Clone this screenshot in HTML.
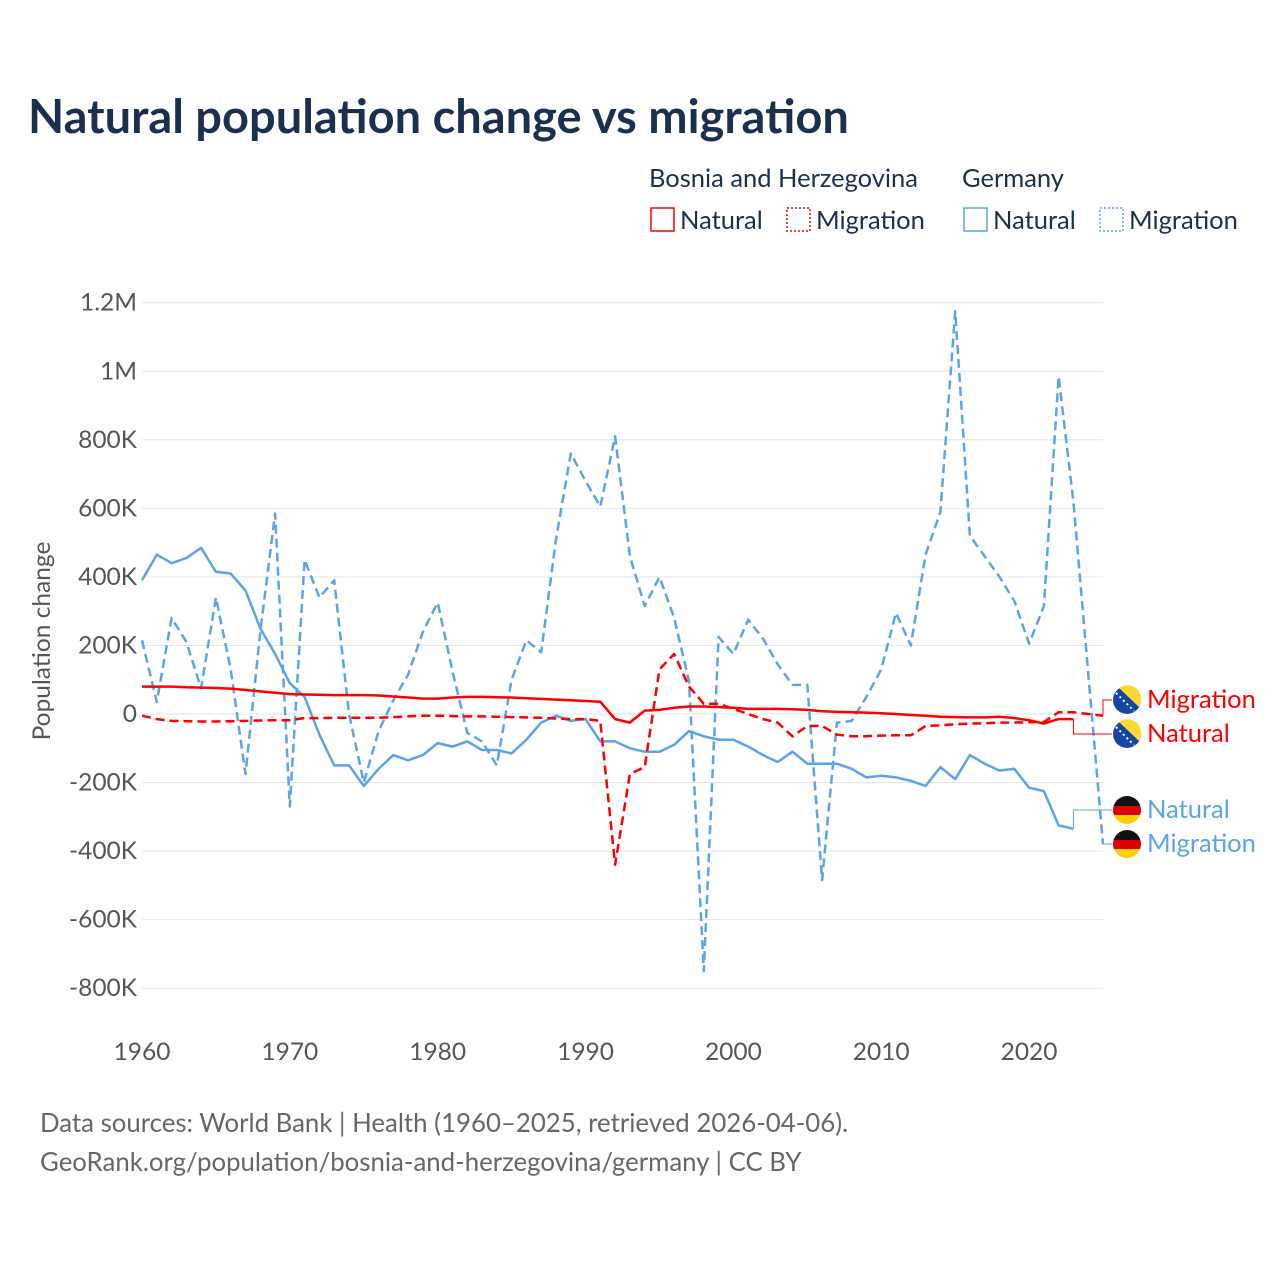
<!DOCTYPE html>
<html><head><meta charset="utf-8"><style>
body{margin:0;background:#fff;font-family:"Liberation Sans",sans-serif;}
svg text{font-family:"Lato","Liberation Sans",sans-serif;}
</style></head><body>
<svg id="c" width="1280" height="1280" viewBox="0 0 1280 1280" xmlns="http://www.w3.org/2000/svg">
<rect width="1280" height="1280" fill="#fff"/>
<text x="28" y="133" font-size="47" font-weight="bold" fill="#1b2f4e">Natural population change vs migration</text>
<g font-size="25.5" fill="#1b2f4e">
<text x="649" y="187" fill="#1b2f4e">Bosnia and Herzegovina</text>
<text x="962" y="187" fill="#1b2f4e">Germany</text>
<g><rect x="651" y="208" width="23" height="23" fill="none" stroke="#f00" stroke-width="1.5"/><text x="680" y="229" fill="#1b2f4e">Natural</text></g>
<g><rect x="787" y="208" width="23" height="23" fill="none" stroke="#f00" stroke-width="1.5" stroke-dasharray="2,2"/><text x="816" y="229" fill="#1b2f4e">Migration</text></g>
<g><rect x="964" y="208" width="23" height="23" fill="none" stroke="#5ba3e8" stroke-width="1.5"/><text x="993" y="229" fill="#1b2f4e">Natural</text></g>
<g><rect x="1100" y="208" width="23" height="23" fill="none" stroke="#5ba3e8" stroke-width="1.5" stroke-dasharray="2,2"/><text x="1129" y="229" fill="#1b2f4e">Migration</text></g>
</g>
<text transform="translate(50,641) rotate(-90)" text-anchor="middle" font-size="24.5" fill="#555">Population change</text>
<g id="grid"></g><g id="series"></g><g id="labels"></g>
<text x="40" y="1132" font-size="25.8" fill="#666">Data sources: World Bank | Health (1960–2025, retrieved 2026-04-06).</text>
<text x="40" y="1171" font-size="25.8" fill="#666">GeoRank.org/population/bosnia-and-herzegovina/germany | CC BY</text>
</svg>
<script>
const yTicks=[1200,1000,800,600,400,200,0,-200,-400,-600,-800];
const yTickLabels=["1.2M","1M","800K","600K","400K","200K","0","-200K","-400K","-600K","-800K"];
const xTicks=[1960,1970,1980,1990,2000,2010,2020];
const bihNatural=[80,80,80,78,77,76,74,70,66,62,58,57,56,55,55,55,54,51,48,45,45,48,50,50,49,48,46,44,42,40,38,36,-15,-25,10,12,18,22,22,20,18,15,15,15,14,12,8,6,5,4,2,0,-3,-5,-8,-9,-10,-10,-8,-12,-18,-28,-15,-15];
const bihMigration=[-5,-15,-20,-21,-22,-22,-21,-20,-19,-18,-18,-12,-12,-11,-11,-11,-11,-9,-7,-5,-5,-6,-7,-7,-8,-9,-10,-11,-13,-15,-15,-20,-440,-175,-155,130,175,80,30,30,15,0,-15,-25,-65,-35,-35,-60,-65,-65,-63,-62,-62,-35,-33,-30,-28,-27,-25,-25,-24,-23,5,5,0,-5];
const deNatural=[390,465,440,455,485,415,410,360,250,175,90,50,-60,-150,-150,-210,-160,-120,-135,-120,-85,-95,-80,-105,-105,-115,-75,-25,-5,-20,-15,-80,-80,-100,-110,-110,-90,-50,-65,-75,-75,-95,-120,-140,-110,-145,-145,-145,-160,-185,-180,-185,-195,-210,-155,-190,-120,-145,-165,-160,-215,-225,-325,-335];
const deMigration=[215,35,280,210,75,340,130,-175,240,585,-270,450,340,390,0,-200,-50,40,115,240,325,125,-55,-80,-150,100,215,180,510,760,680,605,810,460,315,400,280,95,-750,225,175,275,220,145,85,85,-485,-25,-20,50,130,295,200,465,590,1175,520,460,400,330,205,315,985,620,120,-380];
const NS="http://www.w3.org/2000/svg";
const x=yr=>142+(yr-1960)*(1103-142)/65;
const y=v=>714-v*0.34275;
function mk(tag,attrs,parent,text){const e=document.createElementNS(NS,tag);for(const k in attrs)e.setAttribute(k,attrs[k]);if(text!=null)e.textContent=text;parent.appendChild(e);return e;}
const grid=document.getElementById('grid');
yTicks.forEach((t,i)=>{
 const l=mk('line',{x1:142,x2:1103,y1:y(t),y2:y(t),stroke:'#e6e6e6','stroke-width':1},grid);
 
 
 const tx=mk('text',{x:137,y:y(t)+8,'text-anchor':'end','font-size':24.5,fill:'#555'},grid,yTickLabels[i]);
 
 
});
xTicks.forEach(t=>{
 const tx=mk('text',{x:x(t),y:1060,'text-anchor':'middle','font-size':24.5,fill:'#555'},grid,String(t));
 
 
});
const ser=document.getElementById('series');
function line(data,color,dash,name){
 const d=data.map((v,i)=>(i?'L':'M')+x(1960+i).toFixed(1)+','+y(v).toFixed(1)).join('');
 const p=mk('path',{d:d,fill:'none',stroke:color,'stroke-width':2.5,'stroke-linejoin':'round'},ser);
 if(dash)p.setAttribute('stroke-dasharray','9,5');
 
 
}
line(deNatural,'#5ba3e8',false,'line-germany-natural');
line(deMigration,'#5ba3e8',true,'line-germany-migration');
line(bihNatural,'#ff0000',false,'line-bih-natural');
line(bihMigration,'#ff0000',true,'line-bih-migration');
const lab=document.getElementById('labels');
function endLabel(data,ly,color,text,flag,name){
 const n=data.length-1,ex=x(1960+n),ey=y(data[n]);
 const c=mk('polyline',{points:`${ex},${ey} ${ex},${ly} 1112,${ly}`,fill:'none',stroke:color,'stroke-width':1},lab);
 
 
 const g=mk('g',{},lab);
 
 
 if(flag==='bih'){
  mk('circle',{cx:1127,cy:ly,r:14,fill:'#1646a0'},g);
  mk('path',{d:`M${1119},${ly-12} L${1139},${ly+7} A14 14 0 0 0 ${1119},${ly-12} Z`,fill:'#fdd835'},g);
  mk('path',{d:`M${1116},${ly-7} L${1134},${ly+11}`,stroke:'#fff','stroke-width':2,'stroke-dasharray':'2,3'},g);
 }else{
  mk('clipPath',{id:'cp'+ly},g);
  const cp=g.lastChild;mk('circle',{cx:1127,cy:ly,r:14},cp);
  mk('rect',{x:1113,y:ly-14,width:28,height:10,fill:'#111','clip-path':`url(#cp${ly})`},g);
  mk('rect',{x:1113,y:ly-4,width:28,height:9,fill:'#dd0000','clip-path':`url(#cp${ly})`},g);
  mk('rect',{x:1113,y:ly+5,width:28,height:10,fill:'#ffce00','clip-path':`url(#cp${ly})`},g);
 }
 mk('text',{x:1147,y:ly+8,'font-size':25.5,fill:color},g,text);
}
endLabel(bihMigration,700,'#ff0000','Migration','bih','label-bih-migration');
endLabel(bihNatural,734,'#ff0000','Natural','bih','label-bih-natural');
endLabel(deNatural,810,'#5ba3e8','Natural','de','label-germany-natural');
endLabel(deMigration,844,'#5ba3e8','Migration','de','label-germany-migration');
</script>
</body></html>
